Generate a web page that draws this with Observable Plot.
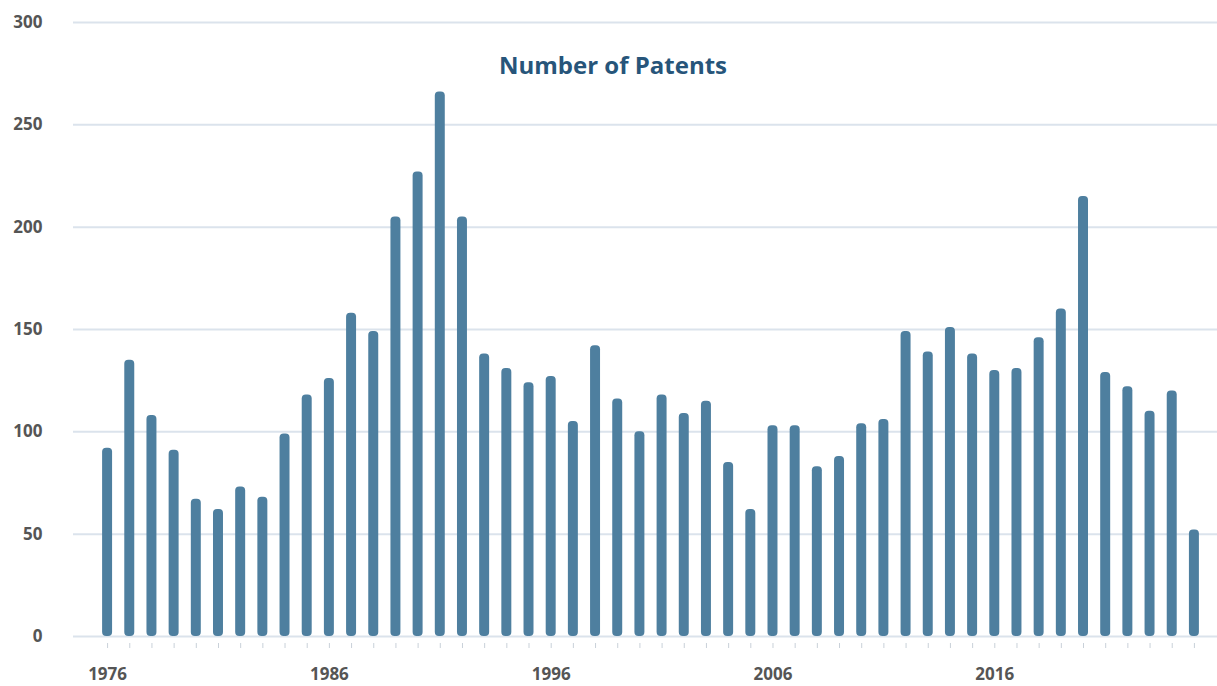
<!DOCTYPE html>
<html><head><meta charset="utf-8">
<script src="https://cdn.jsdelivr.net/npm/d3@7"></script>
<script src="https://cdn.jsdelivr.net/npm/@observablehq/plot@0.6"></script>
<style>body{margin:0;background:#fff;} svg{display:block;}</style>
</head><body><div id="chart"></div>
<script>
const years = d3.range(1976, 2026);
const patents = [92,135,108,91,67,62,73,68,99,118,126,158,149,205,227,266,205,138,131,124,127,105,142,116,100,118,109,115,85,62,103,103,83,88,104,106,149,139,151,138,130,131,146,160,215,129,122,110,120,52];
const yTicks = [0,50,100,150,200,250,300];
const labelYears = [1976,1986,1996,2006,2016];
const title = "Number of Patents";

const data = years.map((y,i)=>({year:y, value:patents[i]}));

const chart = Plot.plot({
  width: 1217, height: 686,
  marginLeft: 96, marginRight: 12, marginTop: 22, marginBottom: 50,
  style: {fontFamily: "'Open Sans', sans-serif", background: "#fff"},
  x: {type: "band", domain: years, paddingInner: 0.55, paddingOuter: 0.275, round: false, axis: null},
  y: {domain: [0,300], axis: null},
  marks: [
    Plot.ruleY(yTicks, {stroke: "#dbe3ec", strokeWidth: 2, insetLeft: -23, insetRight: -12}),
    Plot.barY(data, {x: "year", y: "value", fill: "#4e7f9f", rx: 4}),
    Plot.ruleX(data, {x: "year", y1: 0, y2: 0, insetTop: 7, insetBottom: -12, stroke: "#c9d1d9", strokeWidth: 1}),
    Plot.axisX({ticks: labelYears, tickSize: 0, tickPadding: 31, fontSize: 17, fontWeight: "bold", fill: "#555", label: null, tickFormat: d => String(d)}),
    Plot.axisY({ticks: yTicks, tickSize: 0, tickPadding: 54, fontSize: 17, fontWeight: "bold", fill: "#555", label: null}),
    Plot.text([title], {frameAnchor: "top", dy: 34, dx: -38, fontSize: 24, fontWeight: "bold", fill: "#27557a", fontFamily: "'Open Sans'"})
  ]
});
document.getElementById("chart").append(chart);
</script></body></html>
